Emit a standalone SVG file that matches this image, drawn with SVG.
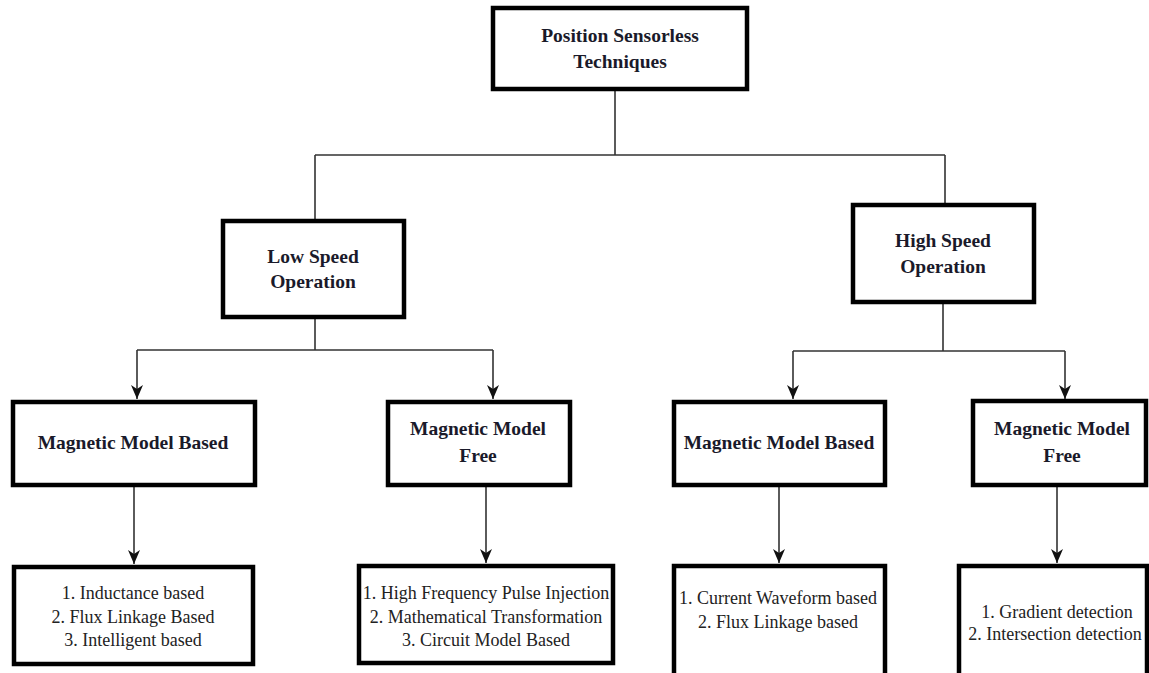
<svg xmlns="http://www.w3.org/2000/svg" width="1149" height="673" viewBox="0 0 1149 673">
<defs>
<marker id="arr" markerWidth="14" markerHeight="12" refX="14" refY="6" orient="auto" markerUnits="userSpaceOnUse" viewBox="0 0 14 12">
<path d="M0,0 L14,6 L0,12 L4,6 Z" fill="#111"/>
</marker>
</defs>
<style>
.box{fill:#fff;stroke:#000;stroke-width:4.5}
.h{font-family:'Liberation Serif','Times New Roman','DejaVu Serif',serif;font-weight:bold;font-size:19.5px;fill:#1a1a2a;text-anchor:middle}
.t{font-family:'Liberation Serif','Times New Roman','DejaVu Serif',serif;font-size:18px;fill:#222;text-anchor:middle}
.c{fill:none;stroke:#333;stroke-width:1.6}
</style>
<rect width="1149" height="673" fill="#fff"/>
<g id="connectors">
<path class="c" d="M615,89 V155 M315,155 H945 M315,155 V222 M945,155 V204"/>
<path class="c" d="M315,318 V350 M137,350 H493"/>
<path class="c" d="M137,350 V399" marker-end="url(#arr)"/>
<path class="c" d="M493,350 V399" marker-end="url(#arr)"/>
<path class="c" d="M943,302 V351 M793,351 H1065"/>
<path class="c" d="M793,351 V399" marker-end="url(#arr)"/>
<path class="c" d="M1065,351 V399" marker-end="url(#arr)"/>
<path class="c" d="M134,485 V564" marker-end="url(#arr)"/>
<path class="c" d="M486,485 V563" marker-end="url(#arr)"/>
<path class="c" d="M779,485 V563" marker-end="url(#arr)"/>
<path class="c" d="M1057,485 V563" marker-end="url(#arr)"/>
</g>
<g id="root">
<rect class="box" x="493" y="8" width="254" height="81"/>
<text class="h" x="620" y="42">Position Sensorless</text>
<text class="h" x="620" y="68">Techniques</text>
</g>
<g id="low">
<rect class="box" x="223" y="221" width="181" height="96"/>
<text class="h" x="313" y="263">Low Speed</text>
<text class="h" x="313" y="288">Operation</text>
</g>
<g id="high">
<rect class="box" x="853" y="205" width="181" height="97"/>
<text class="h" x="943" y="247">High Speed</text>
<text class="h" x="943" y="273">Operation</text>
</g>
<g id="mmb1">
<rect class="box" x="13" y="402" width="242" height="83"/>
<text class="h" x="133" y="449">Magnetic Model Based</text>
</g>
<g id="mmf1">
<rect class="box" x="388" y="402" width="182" height="83"/>
<text class="h" x="478" y="435">Magnetic Model</text>
<text class="h" x="478" y="462">Free</text>
</g>
<g id="mmb2">
<rect class="box" x="674" y="402" width="211" height="83"/>
<text class="h" x="779" y="449">Magnetic Model Based</text>
</g>
<g id="mmf2">
<rect class="box" x="973" y="401" width="173" height="84"/>
<text class="h" x="1062" y="435">Magnetic Model</text>
<text class="h" x="1062" y="462">Free</text>
</g>
<g id="list1">
<rect class="box" x="14" y="567" width="239" height="97"/>
<text class="t" x="133" y="599">1. Inductance based</text>
<text class="t" x="133" y="623">2. Flux Linkage Based</text>
<text class="t" x="133" y="646">3. Intelligent based</text>
</g>
<g id="list2">
<rect class="box" x="359" y="566" width="254" height="97"/>
<text class="t" x="486" y="599">1. High Frequency Pulse Injection</text>
<text class="t" x="486" y="623">2. Mathematical Transformation</text>
<text class="t" x="486" y="646">3. Circuit Model Based</text>
</g>
<g id="list3">
<rect class="box" x="674" y="566" width="211" height="115"/>
<text class="t" x="778" y="604">1. Current Waveform based</text>
<text class="t" x="778" y="628">2. Flux Linkage based</text>
</g>
<g id="list4">
<rect class="box" x="959" y="566" width="188" height="115"/>
<text class="t" x="1057" y="618">1. Gradient detection</text>
<text class="t" x="1055" y="640">2. Intersection detection</text>
</g>
</svg>
